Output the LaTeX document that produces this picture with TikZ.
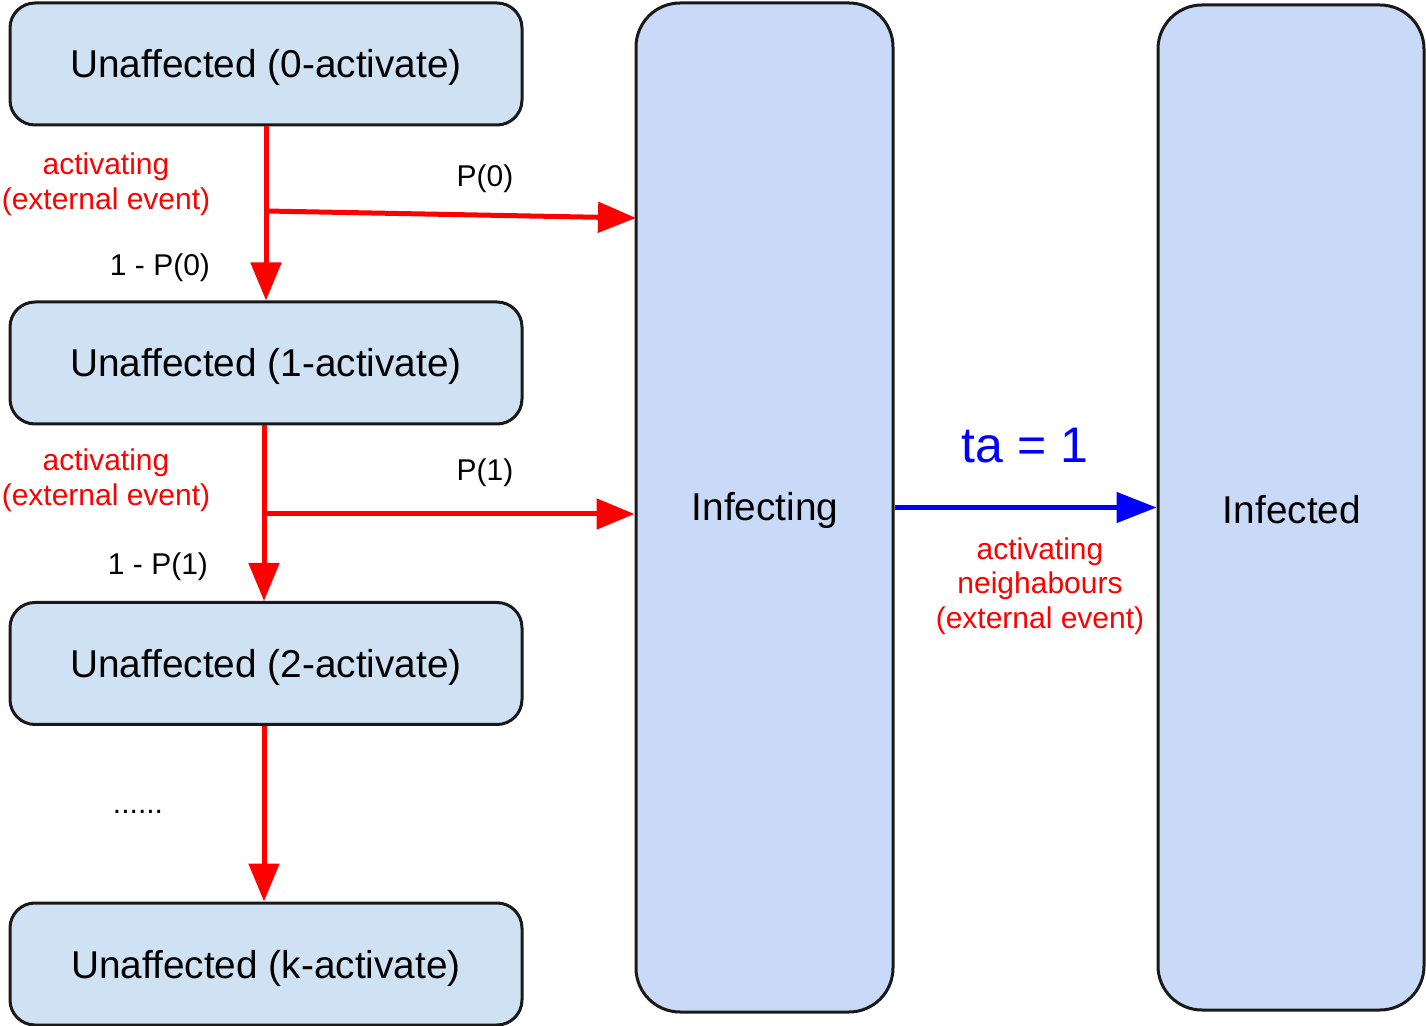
\documentclass[tikz,border=0pt]{standalone}
\usepackage{fontspec}
\setmainfont{Liberation Sans}
\usetikzlibrary{arrows.meta}
\definecolor{smallfill}{HTML}{CFE2F3}
\definecolor{bigfill}{HTML}{C9DAF8}
\definecolor{arrred}{HTML}{FF0000}
\definecolor{arrblue}{HTML}{0000FF}
\begin{document}
\begin{tikzpicture}[x=0.5pt,y=-0.5pt,
  state/.style={draw=black!90,line width=1.5pt,fill=smallfill,rounded corners=12.5pt,
    minimum width=256pt,minimum height=61pt,inner sep=0pt,text height=14pt,text depth=0pt,
    font=\fontsize{19.4}{22}\selectfont},
  bigstate/.style={draw=black!90,line width=1.5pt,fill=bigfill,rounded corners=22pt,
    inner sep=0pt,font=\fontsize{19.4}{22}\selectfont},
  redarr/.style={draw=arrred,line width=2.5pt,-{Triangle[length=19pt,width=15pt]}},
  bluearr/.style={draw=arrblue,line width=2.5pt,-{Triangle[length=20pt,width=15pt]}},
  redlbl/.style={text=arrred,align=center,font=\fontsize{15}{17.3}\selectfont},
  blklbl/.style={text=black,font=\fontsize{15}{17}\selectfont},
]
\useasboundingbox (0,0) rectangle (1426,1026);

% left column of unaffected states
\node[state] (u0) at (266,64)  {Unaffected (0-activate)};
\node[state] (u1) at (266,363) {Unaffected (1-activate)};
\node[state] (u2) at (266,663.5) {Unaffected (2-activate)};
\node[state] (uk) at (266,964) {Unaffected (k-activate)};

% tall states
\node[bigstate,minimum width=128.5pt,minimum height=504.5pt] (inf) at (764.5,507.5) {};
\node[bigstate,minimum width=133pt,minimum height=502.5pt] (infd) at (1291,507.5) {};
\node[font=\fontsize{19.4}{22}\selectfont] (inftxt) at (765,510) {Infecting};
\node[font=\fontsize{19.4}{22}\selectfont] (infdtxt) at (1292,510) {Infected};

% branch points and arrow ends on the tall state
\coordinate (j0) at (266,211);
\coordinate (e0) at (636,218);
\coordinate (j1) at (264,514);

% transitions down the column
\draw[redarr] (u0.south) -- (u1.north);
\draw[redarr] ([xshift=-1pt]u1.south) -- ([xshift=-1pt]u2.north);
\draw[redarr] ([xshift=-1pt]u2.south) -- ([xshift=-1pt]uk.north);

% transitions to infecting
\draw[redarr] (j0) -- (e0);
\draw[redarr] (j1) -- (inf.west |- j1);

% infecting to infected
\draw[bluearr] (inf.east) -- (infd.west);

% labels
\node[redlbl] (l0) at (106,184) {activating\\(external event)};
\node[redlbl] (l1) at (106,480) {activating\\(external event)};
\node[blklbl] (p0) at (485,179) {P(0)};
\node[blklbl] (q0) at (160,268) {1 - P(0)};
\node[blklbl] (p1) at (485,473) {P(1)};
\node[blklbl] (q1) at (158,567) {1 - P(1)};
\node[blklbl] (dots) at (138,812) {......};
\node[text=arrblue,font=\fontsize{25}{29}\selectfont] (ta) at (1025,446) {ta = 1};
\node[redlbl] (ln) at (1040,586) {activating\\neighabours\\(external event)};
\end{tikzpicture}
\end{document}
